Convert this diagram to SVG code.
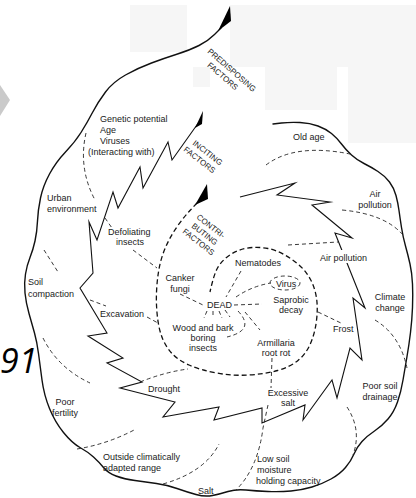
<svg xmlns="http://www.w3.org/2000/svg" width="416" height="498" viewBox="0 0 416 498">
<style>
.bgr{fill:#f6f6f6}
.solid{fill:none;stroke:#111;stroke-width:1.4;stroke-linejoin:round;stroke-linecap:round}
.zig{fill:none;stroke:#111;stroke-width:1.1;stroke-linejoin:miter;stroke-miterlimit:10}
.spiral{fill:none;stroke:#111;stroke-width:1.3;stroke-dasharray:5 3}
.dash{fill:none;stroke:#222;stroke-width:0.9;stroke-dasharray:4 3}
.wedge{fill:#000}
.wb{fill:#fff}
text{font-family:"Liberation Sans",Arial,sans-serif;font-size:9px;fill:#1a1a1a}
.cap{font-size:8px;text-anchor:middle}
.mid{text-anchor:middle}
</style>
<rect width="416" height="498" fill="#fff"/>
<g id="background">
<rect class="bgr" x="130" y="5" width="57" height="47"/>
<rect class="bgr" x="230" y="5" width="186" height="62"/>
<rect class="bgr" x="348" y="65" width="68" height="78"/>
<rect class="bgr" x="265" y="67" width="72" height="43"/>
<rect class="bgr" x="193" y="67" width="17" height="20"/>
<polygon points="0,85 10,100 0,116" fill="#cacaca"/>
<text x="0" y="373" style="font-family:'Open Sans','DejaVu Sans',sans-serif;font-size:34px;font-style:italic;fill:#000">91</text>
</g>
<g id="predisposing-spiral">
<path class="solid" d="M221,28 L214.5,34.5 Q208,41 199,45.5 Q190,50 177.5,54 Q165,58 151.5,63 Q138,68 125.5,75 Q113,82 105.5,92 Q98,102 92.5,112.5 Q87,123 81,132.5 Q75,142 65.5,152 Q56,162 49.5,174 Q43,186 40.5,198 Q38,210 37.5,221 Q37,232 35,241 Q33,250 30,257.5 Q27,265 25.5,274 Q24,283 25,293 Q26,303 29,313.5 Q32,324 34.5,333 Q37,342 38.5,353.5 Q40,365 42,380 Q44,395 49.5,408.5 Q55,422 63.5,432.5 Q72,443 80,447.5 Q88,452 93.5,457 Q99,462 103.5,467.5 Q108,473 116,476 Q124,479 135,480.5 Q146,482 156.5,483.5 Q167,485 177,488.5 Q187,492 196,494.5 Q205,497 212.5,495.5 Q220,494 228,491.5 Q236,489 246,490 Q256,491 268,491.5 Q280,492 291,491 Q302,490 312,487 Q322,484 331,479 Q340,474 345.5,467.5 Q351,461 354,454 Q357,447 362,441.5 Q367,436 374.5,431 Q382,426 388,419 Q394,412 397.5,402 Q401,392 403,380 Q405,368 407,356.5 Q409,345 410.5,332.5 Q412,320 412.5,307.5 Q413,295 412.5,284 Q412,273 410,264 Q408,255 405.5,246 Q403,237 401.5,227.5 Q400,218 399,210.5 Q398,203 396,195.5 Q394,188 389.5,182 Q385,176 378,171.5 Q371,167 364,163.5 Q357,160 351.5,155 Q346,150 341.5,144 Q337,138 331.5,133.5 Q326,129 318,126 Q310,123 300,122.5 Q290,122 281.5,123 L273,124"/>
<polygon class="wedge" points="230,6 231,21 218,31"/>
</g>
<g id="inciting-spiral">
<polyline class="zig" points="199,122 172,160 168,142 143,188 140,167 118,208 113,192 97,240 89,222 93,273 80,288 107,333 88,336 123,358 107,363 142,382 120,388 175,402 163,417 219,407 214,420 262,408 262,423 305,405 303,420 332,380 337,398 350,348 362,360 353,298 365,308 335,233 352,238 312,205 330,202 277,195 295,183 240,197"/>
<polygon class="wedge" points="203,111 202,124 195,128"/>
</g>
<g id="contributing-spiral">
<path class="spiral" d="M197,203 L190,210.5 Q183,218 176.5,227.5 Q170,237 165.5,247.5 Q161,258 159,269 Q157,280 156.5,292.5 Q156,305 157.5,317.5 Q159,330 162.5,338.5 Q166,347 172,353.5 Q178,360 189,365 Q200,370 216.5,373 Q233,376 249,375 Q265,374 277.5,370.5 Q290,367 298,360.5 Q306,354 310.5,343.5 Q315,333 316.5,320.5 Q318,308 316.5,298 Q315,288 310.5,279.5 Q306,271 299,265 Q292,259 284,254.5 Q276,250 268,248.5 Q260,247 252.5,247.5 Q245,248 238.5,250.5 Q232,253 226.5,257.5 Q221,262 217.5,268 Q214,274 210,292"/>
<polygon class="wedge" points="207,184 208,199 195,205"/>
</g>
<g id="connectors">
<path class="dash" d="M86,133 Q78,168 95,200"/>
<path class="dash" d="M105,218 L112,228"/>
<path class="dash" d="M133,250 L157,268"/>
<path class="dash" d="M44,250 L58,272"/>
<path class="dash" d="M90,300 L106,306"/>
<path class="dash" d="M147,317 L158,323"/>
<path class="dash" d="M43,338 Q58,368 90,383"/>
<path class="dash" d="M140,382 Q165,372 188,369"/>
<path class="dash" d="M77,449 Q108,444 136,429"/>
<path class="dash" d="M163,484 Q205,472 219,444"/>
<path class="dash" d="M272,358 L271,388 M268,405 L263,428 Q258,468 236,490"/>
<path class="dash" d="M347,407 Q362,430 353,455"/>
<path class="dash" d="M318,312 L343,324"/>
<path class="dash" d="M375,320 Q400,335 407,368"/>
<path class="dash" d="M266,165 Q295,143 350,154"/>
<path class="dash" d="M342,210 Q385,214 403,235"/>
<path class="dash" d="M288,245 L338,242"/>
<path class="dash" d="M241,271 L226,297"/>
<path class="dash" d="M180,294 L203,305"/>
<path class="dash" d="M234,305 L262,304"/>
<path class="dash" d="M236,297 Q252,286 271,283"/>
<ellipse class="dash" cx="285" cy="283" rx="15" ry="7"/>
<path class="dash" d="M207,311 L204,318 M213,311 L213,318 M219,311 L222,318 M225,310 L230,317"/>
<path class="dash" d="M238,311 Q256,330 227,337"/>
<path class="dash" d="M245,312 L260,330"/>
</g>
<g id="predisposing-label"><g transform="translate(232,70) rotate(41)"><text class="cap" x="0" y="3">PREDISPOSING</text><text class="cap" x="-3" y="13.5">FACTORS</text></g></g>
<g id="inciting-label"><g transform="translate(207,152) rotate(38)"><text class="cap" x="1" y="3">INCITING</text><text class="cap" x="-1" y="13.5">FACTORS</text></g></g>
<g id="contributing-label"><g transform="translate(211,226) rotate(38)"><text class="cap" x="0" y="3">CONTRI-</text><text class="cap" x="0" y="13">BUTING</text><text class="cap" x="0" y="23">FACTORS</text></g></g>
<g id="genetic"><text x="100" y="122">Genetic potential</text><text x="100" y="133">Age</text><text x="100" y="144">Viruses</text><text x="88" y="155">(Interacting with)</text></g>
<g id="old-age"><text x="293" y="140">Old age</text></g>
<g id="urban"><text x="47" y="201">Urban</text><text x="47" y="212">environment</text></g>
<g id="air-pollution-1"><text class="mid" x="375" y="197">Air</text><text class="mid" x="375" y="208">pollution</text></g>
<g id="defoliating"><text x="108" y="235">Defoliating</text><text class="mid" x="130" y="245">insects</text></g>
<g id="nematodes"><text x="235" y="266">Nematodes</text></g>
<g id="air-pollution-2"><rect class="wb" x="319" y="250" width="52" height="13"/><text x="320" y="261">Air pollution</text></g>
<g id="canker"><text class="mid" x="180" y="281">Canker</text><text class="mid" x="180" y="292">fungi</text></g>
<g id="virus"><text x="276" y="287">Virus</text></g>
<g id="soil-compaction"><text x="28" y="285">Soil</text><text x="28" y="297">compaction</text></g>
<g id="dead"><text x="207" y="308">DEAD</text></g>
<g id="saprobic"><text class="mid" x="291" y="303">Saprobic</text><text class="mid" x="291" y="313">decay</text></g>
<g id="climate"><text class="mid" x="390" y="300">Climate</text><text class="mid" x="390" y="311">change</text></g>
<g id="excavation"><text x="100" y="317">Excavation</text></g>
<g id="wood"><text class="mid" x="203" y="331">Wood and bark</text><text class="mid" x="203" y="341">boring</text><text class="mid" x="203" y="351">insects</text></g>
<g id="frost"><text x="333" y="332">Frost</text></g>
<g id="armillaria"><text class="mid" x="276" y="346">Armillaria</text><text class="mid" x="276" y="356">root rot</text></g>
<g id="drought"><text x="148" y="392">Drought</text></g>
<g id="excessive-salt"><text class="mid" x="288" y="396">Excessive</text><text class="mid" x="288" y="406">salt</text></g>
<g id="poor-drainage"><text class="mid" x="380" y="389">Poor soil</text><text class="mid" x="380" y="400">drainage</text></g>
<g id="poor-fertility"><text class="mid" x="65" y="405">Poor</text><text class="mid" x="65" y="416">fertility</text></g>
<g id="outside-range"><text x="103" y="460">Outside climatically</text><text x="103" y="471">adapted range</text></g>
<g id="low-soil"><text x="257" y="462">Low soil</text><text x="257" y="473">moisture</text><text x="256" y="484">holding capacity</text></g>
<g id="salt"><text x="198" y="494">Salt</text></g>
</svg>
